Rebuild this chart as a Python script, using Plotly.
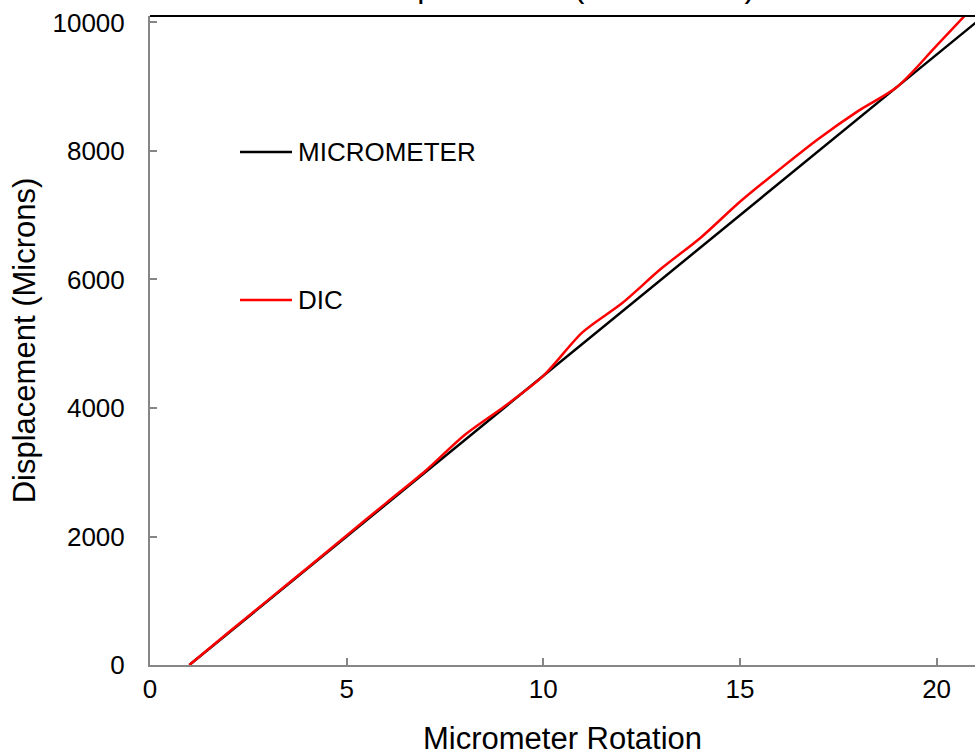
import plotly.graph_objects as go

# Data
rotation = [1, 2, 3, 4, 5, 6, 7, 8, 9, 10, 11, 12, 13, 14, 15, 16, 17, 18, 19, 20, 21]
micrometer = [0, 500, 1000, 1500, 2000, 2500, 3000, 3500, 4000, 4500, 5000,
              5500, 6000, 6500, 7000, 7500, 8000, 8500, 9000, 9500, 10000]
dic = [0, 510, 1010, 1510, 2015, 2520, 3020, 3580, 4020, 4500, 5180,
       5630, 6170, 6650, 7210, 7710, 8190, 8620, 9000, 9640, 10290]
series_names = ["MICROMETER", "DIC"]
series_colors = ["#000000", "#FF0000"]
x_ticks = [0, 5, 10, 15, 20]
y_ticks = [0, 2000, 4000, 6000, 8000, 10000]
title_text = "Displacement (Micrometer)"
x_title = "Micrometer Rotation"
y_title = "Displacement (Microns)"

FONT = "Arial, 'Liberation Sans', sans-serif"
AXIS_GREY = "#868686"

fig = go.Figure()
fig.add_trace(go.Scatter(x=rotation, y=micrometer, mode="lines", name=series_names[0],
                         line=dict(color=series_colors[0], width=2.5), showlegend=False))
fig.add_trace(go.Scatter(x=rotation, y=dic, mode="lines", name=series_names[1],
                         line=dict(color=series_colors[1], width=2.5, shape="spline", smoothing=0.8),
                         showlegend=False))

W, H = 975, 756
L, R, T, B = 150, 0, 16, 91
ph = H - T - B

def ypaper(px):
    return (H - B - px) / ph

def xpaper(px):
    return (px - L) / (W - L - R)

# manual legend
legend_rows = [152, 300]
for name, color, py in zip(series_names, series_colors, legend_rows):
    fig.add_shape(type="line", xref="paper", yref="paper",
                  x0=xpaper(240), x1=xpaper(292), y0=ypaper(py), y1=ypaper(py),
                  line=dict(color=color, width=2.5))
    fig.add_annotation(xref="paper", yref="paper", x=xpaper(296), y=ypaper(py),
                       xanchor="left", yanchor="middle", text=name, showarrow=False,
                       font=dict(family=FONT, size=26, color="#000000"))

# top border
fig.add_shape(type="line", xref="paper", yref="paper", x0=0, x1=1, y0=1, y1=1,
              line=dict(color="#000000", width=2))

# title (cropped at top of image, as in the reference)
fig.add_annotation(xref="paper", yref="paper", x=0.5, y=ypaper(-14),
                   xanchor="center", yanchor="middle", text=title_text, showarrow=False,
                   font=dict(family=FONT, size=32, color="#000000"))

fig.update_layout(
    width=W, height=H,
    margin=dict(l=L, r=R, t=T, b=B, pad=0),
    paper_bgcolor="white", plot_bgcolor="white",
    font=dict(family=FONT, color="#000000"),
    showlegend=False,
)
fig.update_xaxes(range=[0, (W - L - R) / 39.33], tickvals=x_ticks, ticktext=[str(v) for v in x_ticks],
                 showgrid=False, zeroline=False, showline=True, linecolor=AXIS_GREY, linewidth=2,
                 ticks="inside", ticklen=7, tickwidth=2, tickcolor=AXIS_GREY,
                 tickfont=dict(family=FONT, size=26, color="#000000"),
                 title=dict(text=x_title, font=dict(family=FONT, size=31, color="#000000"), standoff=27))
fig.update_yaxes(range=[0, 10101], tickvals=y_ticks, ticktext=[str(v) for v in y_ticks],
                 showgrid=False, zeroline=False, showline=True, linecolor=AXIS_GREY, linewidth=2,
                 ticks="inside", ticklen=7, tickwidth=2, tickcolor=AXIS_GREY,
                 tickfont=dict(family=FONT, size=26, color="#000000"),
                 ticklabelstandoff=18,
                 title=dict(text=y_title, font=dict(family=FONT, size=31, color="#000000"), standoff=8))

fig.write_html("out.html")
